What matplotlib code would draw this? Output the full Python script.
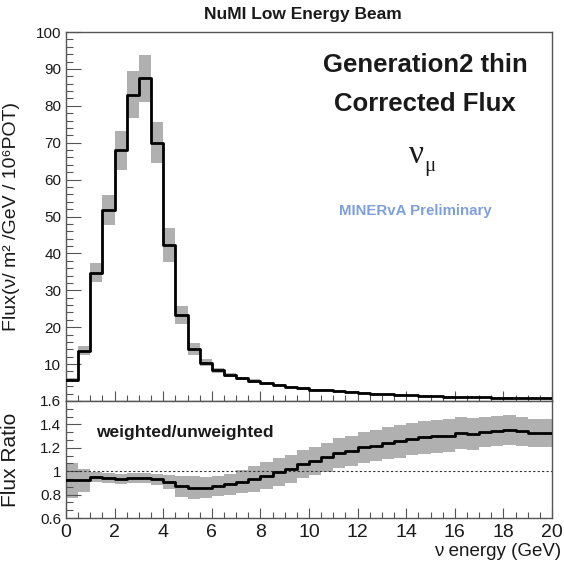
import numpy as np
import matplotlib
matplotlib.use("Agg")
import matplotlib.pyplot as plt
from matplotlib.ticker import MultipleLocator, FixedLocator, FixedFormatter

plt.rcParams['font.family'] = ['Liberation Sans', 'DejaVu Sans']

# ---- data ----
bin_edges = np.arange(0, 20.5, 0.5)

flux = [5.7, 13.6, 34.8, 51.8, 68.0, 83.0, 87.4, 70.0, 42.3, 23.3,
        14.0, 10.4, 8.3, 7.0, 6.1, 5.4, 4.8, 4.3, 3.9, 3.4,
        3.1, 2.9, 2.6, 2.4, 2.2, 2.0, 1.85, 1.7, 1.55, 1.4,
        1.3, 1.2, 1.1, 1.0, 0.95, 0.9, 0.85, 0.8, 0.75, 0.7]
flux_err = [0.5, 1.2, 2.5, 4.0, 5.3, 6.3, 6.3, 5.6, 4.5, 2.5,
            1.6, 0.9, 0.7, 0.55, 0.5, 0.45, 0.4, 0.35, 0.3, 0.3,
            0.25, 0.25, 0.2, 0.2, 0.2, 0.2, 0.15, 0.15, 0.15, 0.15,
            0.1, 0.1, 0.1, 0.1, 0.1, 0.1, 0.1, 0.1, 0.1, 0.1]

ratio = [0.922, 0.922, 0.95, 0.94, 0.935, 0.94, 0.94, 0.93, 0.91, 0.87,
         0.86, 0.86, 0.875, 0.89, 0.91, 0.935, 0.96, 0.99, 1.02, 1.06,
         1.089, 1.118, 1.155, 1.175, 1.204, 1.218, 1.241, 1.256, 1.276, 1.29,
         1.299, 1.305, 1.325, 1.319, 1.333, 1.342, 1.353, 1.342, 1.327, 1.325]
ratio_err = [0.15, 0.10, 0.045, 0.045, 0.045, 0.045, 0.045, 0.05, 0.06, 0.09,
             0.10, 0.09, 0.085, 0.09, 0.10, 0.11, 0.115, 0.12, 0.12, 0.12,
             0.12, 0.125, 0.13, 0.13, 0.135, 0.135, 0.14, 0.14, 0.14, 0.14,
             0.14, 0.14, 0.135, 0.135, 0.13, 0.13, 0.13, 0.125, 0.12, 0.12]

top_yticks = [10, 20, 30, 40, 50, 60, 70, 80, 90, 100]
bot_yticks = [0.6, 0.8, 1.0, 1.2, 1.4, 1.6]
bot_yticklabels = ['0.6', '0.8', '1', '1.2', '1.4', '1.6']
xticks = [0, 2, 4, 6, 8, 10, 12, 14, 16, 18, 20]

band_color = '#b0b0b0'
frame_color = '#555555'
txt_color = '#1a1a1a'

fig = plt.figure(figsize=(5.64, 5.62), dpi=100)
W, H = 564.0, 562.0
def rect(l, t, r, b):
    return [l / W, 1 - b / H, (r - l) / W, (b - t) / H]

ax1 = fig.add_axes(rect(66, 32, 552, 401))
ax2 = fig.add_axes(rect(66, 401, 552, 518))

def step_vals(v):
    v = np.asarray(v, float)
    return np.append(v, v[-1])

f = np.asarray(flux); fe = np.asarray(flux_err)
r = np.asarray(ratio); re_ = np.asarray(ratio_err)

ax1.fill_between(bin_edges, step_vals(f - fe), step_vals(f + fe), step='post',
                 color=band_color, linewidth=0, zorder=1)
ax1.step(bin_edges, step_vals(f), where='post', color='black', lw=2.0, zorder=3)

ax2.fill_between(bin_edges, step_vals(r - re_), step_vals(r + re_), step='post',
                 color=band_color, linewidth=0, zorder=1)
ax2.step(bin_edges, step_vals(r), where='post', color='black', lw=2.0, zorder=3)
ax2.axhline(1.0, color='#333333', lw=0.8, ls=(0, (2, 2)), zorder=2)

for ax in (ax1, ax2):
    ax.set_xlim(0, 20)
    for s in ax.spines.values():
        s.set_color(frame_color)
        s.set_linewidth(1.0)
    ax.xaxis.set_major_locator(FixedLocator(xticks))
    ax.xaxis.set_minor_locator(MultipleLocator(0.5))
    ax.tick_params(axis='x', which='major', direction='in', length=7, width=0.8,
                   color=frame_color, top=False)
    ax.tick_params(axis='x', which='minor', direction='in', length=4, width=0.8,
                   color=frame_color, top=False)
    ax.tick_params(axis='y', which='major', direction='in', length=10.5, width=0.8,
                   color=frame_color, right=False, labelsize=11, labelcolor=txt_color)
    ax.tick_params(axis='y', which='minor', direction='in', length=5, width=0.8,
                   color=frame_color, right=False)

ax1.set_ylim(0, 100)
ax1.yaxis.set_major_locator(FixedLocator(top_yticks))
ax1.yaxis.set_minor_locator(MultipleLocator(2))
ax1.tick_params(axis='x', labelbottom=False)
ax1.set_ylabel('Flux(ν/ m² /GeV / 10⁶POT)', fontsize=14, color=txt_color)
ax1.yaxis.set_label_coords(-0.094, 0.5)

ax2.set_ylim(0.6, 1.6)
ax2.yaxis.set_major_locator(FixedLocator(bot_yticks))
ax2.yaxis.set_major_formatter(FixedFormatter(bot_yticklabels))
ax2.yaxis.set_minor_locator(MultipleLocator(0.2 / 3))
ax2.tick_params(axis='x', labelsize=14, labelcolor=txt_color, pad=4)
ax2.set_ylabel('Flux Ratio', fontsize=15, color=txt_color)
ax2.yaxis.set_label_coords(-0.094, 0.5)
ax2.set_xlabel('ν energy (GeV)', fontsize=13.5, color=txt_color)
ax2.xaxis.set_label_coords(495 / 486, -0.29)
ax2.xaxis.label.set_horizontalalignment('right')
ax2.xaxis.label.set_verticalalignment('center')

# texts
fig.text(303 / W, 1 - 15 / H, 'NuMI Low Energy Beam', ha='center', va='center',
         fontsize=12.5, fontweight='bold', color=txt_color)
fig.text(425 / W, 1 - 65 / H, 'Generation2 thin', ha='center', va='center',
         fontsize=18.5, fontweight='bold', color=txt_color)
fig.text(425 / W, 1 - 104 / H, 'Corrected Flux', ha='center', va='center',
         fontsize=18.5, fontweight='bold', color=txt_color)
fig.text(416 / W, 1 - 155 / H, 'ν', ha='center', va='center',
         fontsize=24, color=txt_color, family='Liberation Serif')
fig.text(424 / W, 1 - 166 / H, 'μ', ha='left', va='center',
         fontsize=15, color=txt_color, family='Liberation Serif')
fig.text(415 / W, 1 - 211 / H, 'MINERvA Preliminary', ha='center', va='center',
         fontsize=10.8, fontweight='bold', color='#7f9fdc')
fig.text(185 / W, 1 - 432 / H, 'weighted/unweighted', ha='center', va='center',
         fontsize=12.5, fontweight='bold', color=txt_color)

fig.savefig('out.png', dpi=100)
